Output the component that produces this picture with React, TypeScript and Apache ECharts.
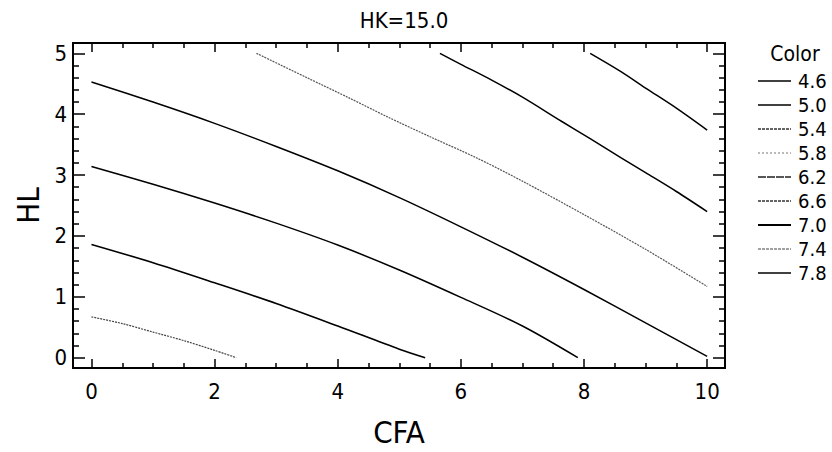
import React, { useEffect, useRef } from "react";
import * as echarts from "echarts";

const titleText = "HK=15.0";
const xName = "CFA";
const yName = "HL";
const legendTitle = "Color";
const levels = ["4.6", "5.0", "5.4", "5.8", "6.2", "6.6", "7.0", "7.4", "7.8"];

const xLabelTicks = [0, 2, 4, 6, 8, 10];
const xMinorTicks = [0.5, 1, 1.5, 2.5, 3, 3.5, 4.5, 5, 5.5, 6.5, 7, 7.5, 8.5, 9, 9.5];
const yLabelTicks = [0, 1, 2, 3, 4, 5];
const yMinorTicks = [0.2, 0.4, 0.6, 0.8, 1.2, 1.4, 1.6, 1.8, 2.2, 2.4, 2.6, 2.8, 3.2, 3.4, 3.6, 3.8, 4.2, 4.4, 4.6, 4.8];

// contour lines [CFA, HL]
const line46: number[][] = [];
const line50 = [[8.1, 5.0], [8.6, 4.7], [9, 4.43], [9.5, 4.1], [10, 3.74]];
const line54 = [[5.66, 5.0], [6, 4.82], [6.5, 4.56], [7, 4.28], [7.64, 3.88], [8.1, 3.6], [8.61, 3.28], [9, 3.04], [9.5, 2.73], [10, 2.4]];
const line58 = [[2.68, 5.0], [3.5, 4.6], [4.2, 4.26], [4.8, 3.96], [5.5, 3.63], [6.26, 3.28], [7, 2.9], [8, 2.35], [9, 1.78], [10, 1.17]];
const line62 = [[0, 4.53], [1, 4.2], [2, 3.85], [3, 3.47], [4, 3.07], [5, 2.63], [6, 2.15], [7, 1.65], [8, 1.12], [9, 0.57], [10, 0.02]];
const line66 = [[0, 3.14], [1, 2.85], [2, 2.54], [3, 2.21], [4, 1.85], [5, 1.44], [6, 0.99], [7, 0.52], [7.9, 0.0]];
const line70 = [[0, 1.86], [1, 1.56], [2, 1.23], [3, 0.89], [4, 0.52], [5, 0.14], [5.42, 0.0]];
const line74 = [[0, 0.67], [0.5, 0.56], [1, 0.42], [1.5, 0.28], [2, 0.12], [2.35, 0.0]];
const line78: number[][] = [];

const seriesData = [line46, line50, line54, line58, line62, line66, line70, line74, line78];

const FONT = "'DejaVu Sans Condensed', 'Liberation Sans Narrow', 'Liberation Sans', Arial, sans-serif";

const plotStyles: any[] = [
  { color: "#000", width: 1.2, type: "solid" },
  { color: "#000", width: 1.5, type: "solid" },
  { color: "#000", width: 1.5, type: "solid" },
  { color: "#555", width: 1.2, type: [2, 1] },
  { color: "#000", width: 1.5, type: "solid" },
  { color: "#000", width: 1.5, type: "solid" },
  { color: "#000", width: 1.6, type: "solid" },
  { color: "#444", width: 1.2, type: [2, 1] },
  { color: "#000", width: 1.5, type: "solid" },
];

const legendStyles: any[] = [
  { color: "#000", width: 1.4, type: "solid" },
  { color: "#000", width: 1.6, type: "solid" },
  { color: "#333", width: 1.4, type: [3, 1] },
  { color: "#777", width: 1.2, type: [2, 2] },
  { color: "#222", width: 1.3, type: [8, 1] },
  { color: "#333", width: 1.4, type: [3, 1] },
  { color: "#000", width: 2, type: "solid" },
  { color: "#444", width: 1.2, type: [3, 1] },
  { color: "#000", width: 1.6, type: "solid" },
];

const X_MIN = -0.3;
const X_MAX = 10.29;
const Y_MIN = -0.17;
const Y_MAX = 5.17;

function xAxisDef(position: "bottom" | "top", major: boolean, withLabels: boolean): any {
  return {
    type: "value",
    gridIndex: 0,
    position,
    min: X_MIN,
    max: X_MAX,
    name: withLabels ? xName : "",
    nameLocation: "middle",
    nameGap: 48,
    nameTextStyle: { fontFamily: FONT, fontSize: 31, color: "#000" },
    axisLine: { show: false, onZero: false },
    splitLine: { show: false },
    axisTick: {
      show: true,
      inside: true,
      length: major ? 9 : 5,
      lineStyle: { color: "#000", width: 1.5 },
      customValues: major ? xLabelTicks : xMinorTicks,
    },
    axisLabel: withLabels
      ? { show: true, customValues: xLabelTicks, fontFamily: FONT, fontSize: 22, color: "#000", margin: 12 }
      : { show: false },
  };
}

function yAxisDef(position: "left" | "right", major: boolean, withLabels: boolean): any {
  return {
    type: "value",
    gridIndex: 0,
    position,
    min: Y_MIN,
    max: Y_MAX,
    name: withLabels ? yName : "",
    nameLocation: "middle",
    nameGap: 29,
    nameRotate: 90,
    nameTextStyle: { fontFamily: FONT, fontSize: 31, color: "#000" },
    axisLine: { show: false, onZero: false },
    splitLine: { show: false },
    axisTick: {
      show: true,
      inside: true,
      length: major ? 12 : 6,
      lineStyle: { color: "#000", width: 1.5 },
      customValues: major ? yLabelTicks : yMinorTicks,
    },
    axisLabel: withLabels
      ? { show: true, customValues: yLabelTicks, fontFamily: FONT, fontSize: 22, color: "#000", margin: 6 }
      : { show: false },
  };
}

export default function App() {
  const ref = useRef<HTMLDivElement>(null);
  useEffect(() => {
    if (!ref.current) return;
    const chart = echarts.init(ref.current, null, { renderer: "svg" });
    chart.setOption({
      animation: false,
      backgroundColor: "#fff",
      title: [
        {
          text: titleText,
          left: 399,
          textAlign: "center",
          top: 4,
          textStyle: { fontFamily: FONT, fontSize: 22, fontWeight: "normal", color: "#000" },
        },
        {
          text: legendTitle,
          left: 790,
          textAlign: "center",
          top: 38,
          textStyle: { fontFamily: FONT, fontSize: 21, fontWeight: "normal", color: "#000" },
        },
      ],
      grid: {
        left: 73,
        right: 107,
        top: 43,
        bottom: 83,
        show: true,
        borderColor: "#000",
        borderWidth: 2,
        backgroundColor: "transparent",
      },
      legend: {
        orient: "vertical",
        left: 752,
        top: 66,
        itemWidth: 33,
        itemHeight: 14,
        itemGap: 4,
        selectedMode: false,
        textStyle: { fontFamily: FONT, fontSize: 20, color: "#000", padding: [0, 0, 0, 2] },
        data: levels.map((lv, i) => ({ name: lv, lineStyle: legendStyles[i], itemStyle: { opacity: 0 } })),
      },
      xAxis: [
        xAxisDef("bottom", true, true),
        xAxisDef("bottom", false, false),
        xAxisDef("top", true, false),
        xAxisDef("top", false, false),
      ],
      yAxis: [
        yAxisDef("left", true, true),
        yAxisDef("left", false, false),
        yAxisDef("right", true, false),
        yAxisDef("right", false, false),
      ],
      series: levels.map((lv, i) => ({
        name: lv,
        type: "line",
        xAxisIndex: 0,
        yAxisIndex: 0,
        data: seriesData[i],
        symbol: "none",
        smooth: 0.3,
        lineStyle: plotStyles[i],
        itemStyle: { color: plotStyles[i].color },
        silent: true,
      })),
    });
    return () => chart.dispose();
  }, []);
  return <div ref={ref} style={{ position: "fixed", left: 0, top: 0, width: 832, height: 452 }} />;
}
